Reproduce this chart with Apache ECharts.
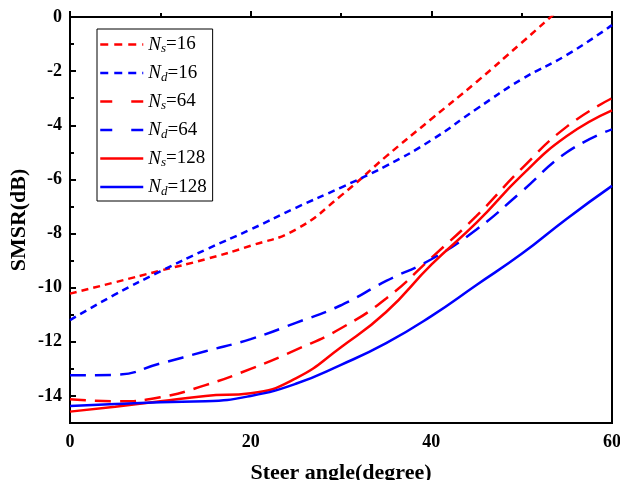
<!DOCTYPE html>
<html>
<head>
<meta charset="utf-8">
<script src="https://cdn.jsdelivr.net/npm/echarts@6/dist/echarts.min.js"></script>
<style>
    html, body {margin: 0; padding: 0; background: #fff;}
    #main {width: 620px; height: 480px;}
</style>
</head>
<body>
<div id="main"></div>
<script>
// steer angle (degree) and SMSR (dB)
const angles = [0, 5, 10, 15, 20, 25, 30, 35, 40, 45, 50, 55, 60];
const ns16 = [-10.22, -9.8, -9.37, -8.95, -8.45, -7.85, -6.6, -5.15, -3.77, -2.4, -0.95, 0.5, 1.8];
const nd16 = [-11.2, -10.25, -9.4, -8.6, -7.85, -7.05, -6.3, -5.5, -4.55, -3.4, -2.3, -1.4, -0.3];
const ns64 = [-14.12, -14.2, -14.05, -13.6, -13.0, -12.3, -11.5, -10.4, -8.9, -7.35, -5.6, -4.05, -3.0];
const nd64 = [-13.24, -13.22, -12.8, -12.35, -11.9, -11.3, -10.65, -9.75, -8.95, -7.85, -6.45, -5.0, -4.15];
const ns128 = [-14.58, -14.4, -14.2, -14.0, -13.9, -13.35, -12.2, -10.9, -9.15, -7.6, -5.85, -4.4, -3.45];
const nd128 = [-14.37, -14.3, -14.23, -14.2, -14.0, -13.55, -12.85, -12.05, -11.05, -9.9, -8.75, -7.45, -6.24];

const seriesNames = ['Ns=16', 'Nd=16', 'Ns=64', 'Nd=64', 'Ns=128', 'Nd=128'];
const majorY = [-14, -12, -10, -8, -6, -4, -2, 0];
const minorY = [-13, -11, -9, -7, -5, -3, -1];

const FONT = 'Liberation Serif';
const RED = '#ff0000';
const BLUE = '#0000ff';
const DOT = [7, 5];
const DASH = [16, 9];
const styles = [
    {color: RED, type: DOT},
    {color: BLUE, type: DOT},
    {color: RED, type: DASH},
    {color: BLUE, type: DASH},
    {color: RED, type: 'solid'},
    {color: BLUE, type: 'solid'}
];
const legendDash = [[8, 6], [8, 6], [12, 19], [12, 19], 'solid', 'solid'];
const seriesValues = [ns16, nd16, ns64, nd64, ns128, nd128];

function pairs(values) {
    return angles.map((a, i) => [a, values[i]]);
}

const option = {
    animation: false,
    backgroundColor: '#fff',
    grid: {
        left: 70, right: 8, top: 17, bottom: 57,
        outerBoundsMode: 'none',
        containLabel: false,
        show: true, borderColor: '#000', borderWidth: 2
    },
    legend: {
        orient: 'vertical',
        left: 97, top: 29,
        itemWidth: 43, itemHeight: 14, itemGap: 8,
        padding: [6, 6, 3, 2],
        borderColor: '#000', borderWidth: 1,
        itemStyle: {opacity: 0},
        data: seriesNames.map((n, i) => ({
            name: n,
            lineStyle: {color: styles[i].color, width: 2.5, type: legendDash[i]}
        })),
        formatter: function (name) {
            const sub = name.charAt(1);
            const rest = name.slice(2);
            return '{n|N}{s|' + sub + '}{t|' + rest + '}';
        },
        textStyle: {
            fontFamily: FONT, fontSize: 18, color: '#000',
            rich: {
                n: {fontFamily: FONT, fontSize: 19, fontStyle: 'italic', color: '#000'},
                s: {fontFamily: FONT, fontSize: 13, fontStyle: 'italic', color: '#000', padding: [9, 0, 0, 0]},
                t: {fontFamily: FONT, fontSize: 19, color: '#000'}
            }
        }
    },
    xAxis: {
        type: 'value',
        min: 0, max: 60, interval: 20,
        name: 'Steer angle(degree)',
        nameLocation: 'middle',
        nameGap: 39,
        nameMoveOverlap: false,
        nameTextStyle: {fontFamily: FONT, fontSize: 22, fontWeight: 'bold', color: '#000'},
        axisLine: {lineStyle: {color: '#000', width: 2}},
        axisTick: {inside: true, length: 6, lineStyle: {color: '#000', width: 2}},
        minorTick: {show: true, splitNumber: 2, length: 4, lineStyle: {color: '#000', width: 2}},
        axisLabel: {fontFamily: FONT, fontSize: 18, fontWeight: 'bold', color: '#000', margin: 10},
        splitLine: {show: false}
    },
    yAxis: [
        {
            type: 'value',
            min: -15, max: 0,
            name: 'SMSR(dB)',
            nameLocation: 'middle',
            nameGap: 40,
            nameMoveOverlap: false,
            nameTextStyle: {fontFamily: FONT, fontSize: 22, fontWeight: 'bold', color: '#000'},
            axisLine: {lineStyle: {color: '#000', width: 2}},
            axisTick: {inside: true, length: 6, customValues: majorY, lineStyle: {color: '#000', width: 2}},
            axisLabel: {customValues: majorY, fontFamily: FONT, fontSize: 18, fontWeight: 'bold', color: '#000', margin: 8},
            splitLine: {show: false}
        },
        {
            type: 'value',
            min: -15, max: 0,
            position: 'left',
            axisLine: {show: false},
            axisTick: {inside: true, length: 4, customValues: minorY, lineStyle: {color: '#000', width: 2}},
            axisLabel: {show: false},
            splitLine: {show: false}
        }
    ],
    series: seriesNames.map((name, i) => ({
        name: name,
        type: 'line',
        data: pairs(seriesValues[i]),
        smooth: true,
        symbol: 'none',
        clip: true,
        lineStyle: {color: styles[i].color, width: 2.5, type: styles[i].type},
        itemStyle: {color: styles[i].color}
    }))
};

const myChart = echarts.init(document.getElementById('main'));
myChart.setOption(option);
</script>
</body>
</html>
